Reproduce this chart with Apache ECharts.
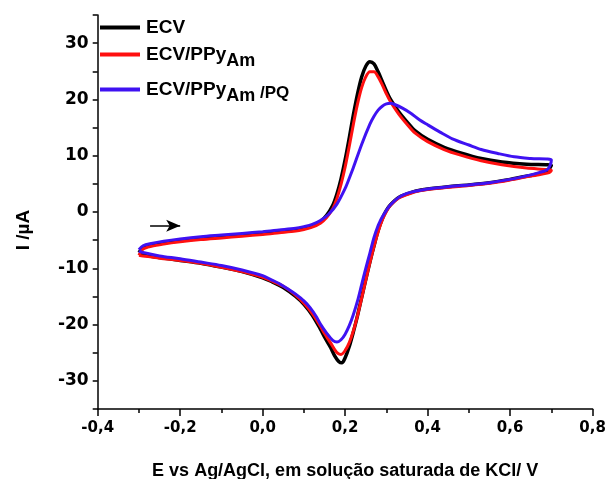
<!DOCTYPE html>
<html>
<head>
<meta charset="utf-8">
<script src="https://cdn.jsdelivr.net/npm/echarts@6/dist/echarts.min.js"></script>
<style>html,body{margin:0;padding:0;background:#fff}#c{width:607px;height:479px}</style>
</head>
<body>
<div id="c"></div>
<script>
// ---- Data (E in V, I in µA); each loop: forward scan then reverse scan ----
const ecvE = [-0.30,-0.29,-0.27,-0.24,-0.20,-0.15,-0.10,-0.05,0.00,0.04,0.08,0.10,0.12,0.14,0.155,0.17,0.18,0.19,0.20,0.21,0.22,0.23,0.24,0.25,0.26,0.27,0.28,0.29,0.30,0.31,0.33,0.35,0.37,0.40,0.44,0.48,0.53,0.58,0.64,0.70,
  0.697,0.69,0.67,0.65,0.60,0.55,0.50,0.45,0.40,0.37,0.35,0.33,0.31,0.30,0.29,0.28,0.27,0.26,0.25,0.24,0.23,0.22,0.21,0.20,0.192,0.185,0.175,0.165,0.15,0.14,0.12,0.10,0.08,0.05,0.02,0.00,-0.05,-0.10,-0.15,-0.20,-0.25,-0.29,-0.30];
const ecvI = [-7.2,-6.4,-5.9,-5.5,-5.1,-4.7,-4.4,-4.1,-3.8,-3.5,-3.2,-2.9,-2.5,-1.7,-0.6,1.2,3.2,5.9,9.3,13.2,17.3,21.0,24.0,25.9,26.7,26.3,24.9,23.2,21.5,20.0,17.8,16.0,14.4,12.9,11.5,10.5,9.5,8.9,8.5,8.3,
  7.9,7.2,6.8,6.5,5.8,5.2,4.8,4.5,4.1,3.7,3.2,2.6,1.3,0.3,-1.2,-3.3,-6.0,-8.9,-12.0,-15.2,-18.4,-21.3,-23.9,-25.9,-26.8,-26.6,-25.6,-24.1,-22.2,-20.8,-18.3,-16.4,-15.0,-13.4,-12.3,-11.7,-10.6,-9.8,-9.1,-8.6,-8.1,-7.6,-7.3];

const ppyE = [-0.30,-0.29,-0.27,-0.24,-0.20,-0.15,-0.10,-0.05,0.00,0.04,0.08,0.10,0.12,0.14,0.155,0.17,0.18,0.19,0.20,0.21,0.22,0.23,0.24,0.25,0.26,0.27,0.28,0.29,0.30,0.31,0.33,0.35,0.37,0.40,0.44,0.48,0.53,0.58,0.64,0.70,
  0.697,0.69,0.67,0.65,0.60,0.55,0.50,0.45,0.40,0.37,0.35,0.33,0.31,0.30,0.29,0.28,0.27,0.26,0.25,0.24,0.23,0.22,0.21,0.20,0.19,0.182,0.175,0.165,0.15,0.14,0.12,0.10,0.08,0.05,0.02,0.00,-0.05,-0.10,-0.15,-0.20,-0.25,-0.29,-0.30];
const ppyI = [-7.7,-6.6,-6.1,-5.7,-5.3,-4.9,-4.6,-4.3,-4.0,-3.7,-3.4,-3.1,-2.7,-2.0,-1.0,0.6,2.4,4.9,8.0,11.7,15.6,19.2,22.1,24.0,24.9,24.9,24.0,22.6,21.0,19.6,17.4,15.6,14.0,12.5,11.1,10.1,9.1,8.4,7.8,7.4,
  7.1,6.9,6.6,6.4,5.7,5.1,4.7,4.4,4.0,3.6,3.1,2.5,1.2,0.1,-1.4,-3.5,-6.1,-9.0,-12.1,-15.3,-18.4,-21.1,-23.2,-24.6,-25.3,-25.1,-24.5,-23.3,-21.6,-20.3,-18.0,-16.2,-14.8,-13.2,-12.2,-11.6,-10.6,-9.8,-9.1,-8.6,-8.2,-7.8,-7.7];

const pqE = [-0.30,-0.29,-0.27,-0.24,-0.20,-0.15,-0.10,-0.05,0.00,0.04,0.08,0.10,0.12,0.14,0.16,0.18,0.20,0.21,0.22,0.24,0.26,0.27,0.28,0.29,0.30,0.31,0.32,0.34,0.36,0.38,0.40,0.43,0.46,0.50,0.53,0.57,0.61,0.65,0.70,
  0.697,0.69,0.67,0.65,0.60,0.55,0.50,0.45,0.40,0.37,0.35,0.33,0.31,0.30,0.29,0.285,0.28,0.27,0.26,0.25,0.24,0.23,0.22,0.21,0.20,0.19,0.18,0.17,0.156,0.14,0.131,0.115,0.10,0.08,0.066,0.04,0.02,0.00,-0.05,-0.10,-0.15,-0.20,-0.25,-0.29,-0.30];
const pqI = [-6.7,-6.0,-5.6,-5.2,-4.8,-4.4,-4.1,-3.8,-3.5,-3.2,-2.9,-2.6,-2.2,-1.5,-0.4,1.4,4.2,6.0,7.9,12.0,15.6,17.0,18.1,18.8,19.2,19.3,19.1,18.4,17.5,16.4,15.5,14.2,13.0,11.9,11.1,10.4,9.8,9.5,9.25,
  8.3,7.5,7.0,6.6,5.8,5.2,4.8,4.5,4.1,3.7,3.3,2.6,1.3,0.3,-0.9,-1.6,-2.4,-4.5,-7.3,-10.0,-12.9,-15.8,-18.2,-20.2,-21.7,-22.7,-23.1,-22.8,-21.6,-19.9,-18.7,-17.0,-15.8,-14.6,-13.9,-12.7,-12.0,-11.3,-10.3,-9.5,-8.9,-8.3,-7.8,-7.2,-6.9];

const seriesNames = ['ECV', 'ECV/PPyAm', 'ECV/PPyAm/PQ'];
const seriesColors = ['#000000', '#ff1010', '#3f12f2'];
const arrowStart = [-0.273, -2.45];
const arrowEnd = [-0.200, -2.45];
const xTicks = { min: -0.4, max: 0.8, interval: 0.2 };
const yTicks = { min: -35, max: 35, interval: 5 };
const xTitle = 'E vs Ag/AgCl, em solução saturada de KCl/ V';
const yTitle = 'I /µA';

const zip = (a, b) => a.map((v, i) => [v, b[i]]);
const loops = [zip(ecvE, ecvI), zip(ppyE, ppyI), zip(pqE, pqI)];

const arial = '"Liberation Sans", Arial, sans-serif';
const dejavu = '"DejaVu Sans", Verdana, sans-serif';

const legendRich = {
  n: { fontSize: 19, fontWeight: 'bold', fontFamily: arial, color: '#000', lineHeight: 20 },
  s: { fontSize: 18, fontWeight: 'bold', fontFamily: arial, color: '#000', lineHeight: 20, padding: [13, 0, 0, 0] },
  p: { fontSize: 17, fontWeight: 'bold', fontFamily: arial, color: '#000', lineHeight: 18, padding: [7, 0, 0, 0] }
};
const legendFmt = {
  'ECV': '{n|ECV}',
  'ECV/PPyAm': '{n|ECV/PPy}{s|Am}',
  'ECV/PPyAm/PQ': '{n|ECV/PPy}{s|Am}{p| /PQ}'
};
const legendTops = [18, 39, 74];

const chart = echarts.init(document.getElementById('c'), null, { renderer: 'canvas' });
chart.setOption({
  animation: false,
  backgroundColor: '#fff',
  grid: { left: 97.7, right: 14.4, top: 15, bottom: 70, containLabel: false, outerBoundsMode: 'none' },
  legend: seriesNames.map((nm, i) => ({
    data: [nm],
    left: 100, top: legendTops[i], padding: 0,
    icon: 'rect', itemWidth: 40, itemHeight: 4,
    selectedMode: false,
    formatter: (name) => legendFmt[name],
    textStyle: { rich: legendRich, padding: [0, 0, 0, 1] }
  })),
  xAxis: {
    type: 'value', min: xTicks.min, max: xTicks.max, interval: xTicks.interval,
    name: xTitle, nameLocation: 'middle', nameGap: 53,
    nameTextStyle: { fontSize: 18, fontWeight: 'bold', fontFamily: arial, color: '#000' },
    axisLine: { show: true, onZero: false, lineStyle: { color: '#000', width: 1.5 } },
    axisTick: { show: true, inside: false, length: 7, lineStyle: { color: '#000', width: 1.5 } },
    minorTick: { show: true, splitNumber: 2, length: 4, lineStyle: { color: '#000', width: 1.5 } },
    axisLabel: { margin: 12, fontSize: 15, fontWeight: 'bold', fontFamily: dejavu, color: '#000',
      formatter: (v) => (Math.abs(v) < 1e-9 ? 0 : v).toFixed(1).replace('.', ',') },
    splitLine: { show: false }
  },
  yAxis: {
    type: 'value', min: yTicks.min, max: yTicks.max, interval: yTicks.interval,
    name: yTitle, nameLocation: 'middle', nameGap: 64, nameRotate: 90,
    nameTextStyle: { fontSize: 19, fontWeight: 'bold', fontFamily: arial, color: '#000', padding: [0, 36, 0, 0] },
    axisLine: { show: true, onZero: false, lineStyle: { color: '#000', width: 1.5 } },
    axisTick: { show: true, inside: false, length: 5, lineStyle: { color: '#000', width: 1.5 } },
    axisLabel: { margin: 9, fontSize: 17, fontWeight: 'bold', fontFamily: dejavu, color: '#000',
      formatter: (v) => (Math.round(v) % 10 === 0 ? String(Math.round(v)) : '') },
    splitLine: { show: false }
  },
  series: seriesNames.map((nm, i) => ({
    name: nm, type: 'line', data: loops[i],
    showSymbol: false, smooth: 0.3, silent: true,
    lineStyle: { color: seriesColors[i], width: i === 0 ? 3.5 : 3 },
    itemStyle: { color: seriesColors[i] },
    z: 2 + i,
    markLine: i === 0 ? {
      silent: true, symbol: ['none', 'arrow'], symbolSize: [9, 14],
      label: { show: false },
      lineStyle: { color: '#000', width: 1.5, type: 'solid' },
      data: [[{ coord: arrowStart }, { coord: arrowEnd }]]
    } : undefined
  }))
});
</script>
</body>
</html>
